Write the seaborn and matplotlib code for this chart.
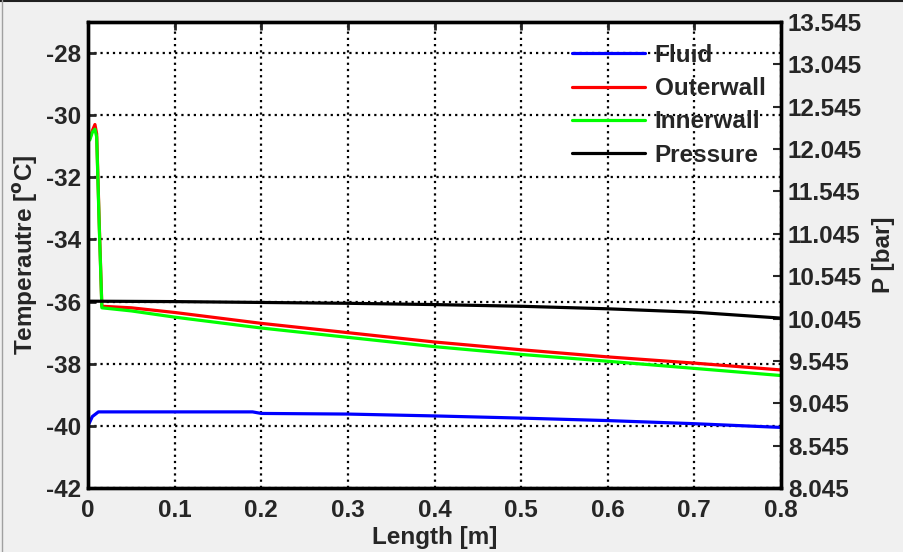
import numpy as np
import pandas as pd
import matplotlib
matplotlib.use("Agg")
import matplotlib.pyplot as plt
import seaborn as sns
from matplotlib.lines import Line2D

# ---- data ----
x_wall = [0.002, 0.005, 0.008, 0.010, 0.013, 0.016, 0.05, 0.1, 0.2, 0.3, 0.4, 0.5, 0.6, 0.7, 0.8]
outerwall = [-30.75, -30.5, -30.3, -30.6, -33.5, -36.15, -36.2, -36.35, -36.7, -37.0, -37.3, -37.55, -37.78, -37.98, -38.2]
innerwall = [-30.8, -30.55, -30.45, -30.7, -33.6, -36.2, -36.3, -36.5, -36.85, -37.15, -37.45, -37.7, -37.92, -38.15, -38.38]

x_fluid = [0.0, 0.005, 0.012, 0.1, 0.19, 0.2, 0.3, 0.4, 0.5, 0.6, 0.7, 0.8]
fluid = [-40.0, -39.7, -39.55, -39.55, -39.55, -39.6, -39.62, -39.68, -39.75, -39.83, -39.93, -40.05]

x_press = [0.0, 0.1, 0.2, 0.3, 0.4, 0.5, 0.6, 0.7, 0.8]
pressure = [10.25, 10.245, 10.235, 10.225, 10.21, 10.19, 10.16, 10.12, 10.05]

x_ticks = [0, 0.1, 0.2, 0.3, 0.4, 0.5, 0.6, 0.7, 0.8]
x_ticklabels = ["0", "0.1", "0.2", "0.3", "0.4", "0.5", "0.6", "0.7", "0.8"]
t_ticks = [-42, -40, -38, -36, -34, -32, -30, -28]
p_ticks = [8.045, 8.545, 9.045, 9.545, 10.045, 10.545, 11.045, 11.545, 12.045, 12.545, 13.045, 13.545]

labels = ["Fluid", "Outerwall", "Innerwall", "Pressure"]
colors = ["#0000FF", "#FF0000", "#00FF00", "#000000"]

# ---- styling ----
sns.set_style("white")
plt.rcParams["font.family"] = ["Liberation Sans", "DejaVu Sans"]
plt.rcParams["font.weight"] = "bold"
plt.rcParams["axes.labelweight"] = "bold"
FS = 17.5
LW = 2.3

fig = plt.figure(figsize=(9.04, 5.52), dpi=100, facecolor="#F0F0F0")
ax = fig.add_axes([88 / 904, 1 - 488 / 552, (781 - 88) / 904, (488 - 22) / 552])
ax.set_facecolor("white")

df_f = pd.DataFrame({"x": x_fluid, "y": fluid})
df_w = pd.DataFrame({"x": x_wall, "outer": outerwall, "inner": innerwall})
df_p = pd.DataFrame({"x": x_press, "p": pressure})

sns.lineplot(data=df_f, x="x", y="y", ax=ax, color=colors[0], lw=LW, label=labels[0], legend=False)
sns.lineplot(data=df_w, x="x", y="outer", ax=ax, color=colors[1], lw=LW, label=labels[1], legend=False)
sns.lineplot(data=df_w, x="x", y="inner", ax=ax, color=colors[2], lw=LW, label=labels[2], legend=False)

ax.set_xlim(0, 0.8)
ax.set_ylim(-42, -27)
ax.set_xticks(x_ticks)
ax.set_xticklabels(x_ticklabels)
ax.set_yticks(t_ticks)
ax.set_yticklabels([str(t) for t in t_ticks])
ax.grid(True, color="black", linestyle=(0, (1, 1.8)), linewidth=1.6)
ax.tick_params(direction="in", top=True, right=True, length=6, width=2,
               labelsize=FS, pad=5)
ax.tick_params(axis="x", pad=8)
for lab in ax.get_xticklabels() + ax.get_yticklabels():
    lab.set_fontweight("bold")
ax.set_xlabel("Length [m]", fontsize=FS, fontweight="bold", labelpad=3)
ax.set_ylabel("Temperautre [$\\mathbf{^{o}}$C]", fontsize=FS, fontweight="bold", labelpad=4)

ax2 = ax.twinx()
sns.lineplot(data=df_p, x="x", y="p", ax=ax2, color=colors[3], lw=LW, label=labels[3], legend=False)
ax2.set_ylim(8.045, 13.545)
ax2.set_yticks(p_ticks)
ax2.set_yticklabels(["%.3f" % p for p in p_ticks])
ax2.tick_params(direction="in", length=6, width=1.5, labelsize=FS, pad=5)
for lab in ax2.get_yticklabels():
    lab.set_fontweight("bold")
ax2.set_ylabel("P [bar]", fontsize=FS, fontweight="bold", labelpad=7)
ax2.set_xlim(0, 0.8)

for a in (ax, ax2):
    for s in a.spines.values():
        s.set_linewidth(2.4)
        s.set_color("black")

handles = [Line2D([], [], color=c, lw=LW) for c in colors]
leg = ax2.legend(handles, labels, loc="upper left",
                 bbox_to_anchor=(572 / 904, 1 - 44 / 552), bbox_transform=fig.transFigure,
                 frameon=False, fontsize=FS, handlelength=3.0, handletextpad=0.4,
                 labelspacing=0.42, borderpad=0, borderaxespad=0)
for t in leg.get_texts():
    t.set_fontweight("bold")

# window border of the screenshot
fig.add_artist(Line2D([0, 1], [1 - 1 / 552, 1 - 1 / 552], transform=fig.transFigure, color="#202020", lw=1.5))
fig.add_artist(Line2D([2 / 904, 2 / 904], [0, 1], transform=fig.transFigure, color="#A0A0A0", lw=1))

fig.savefig("out.png", dpi=100, facecolor=fig.get_facecolor())
